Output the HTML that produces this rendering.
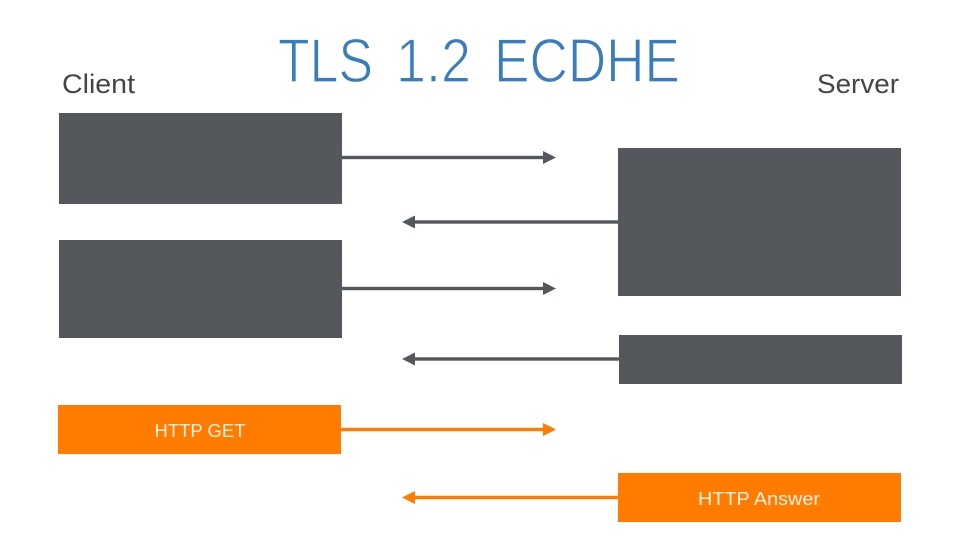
<!DOCTYPE html>
<html>
<head>
<meta charset="utf-8">
<style>
html,body{margin:0;padding:0;background:#fff;}
svg{display:block;}
text{font-family:"Liberation Sans",sans-serif;}
</style>
</head>
<body>
<svg width="960" height="540" viewBox="0 0 960 540" xmlns="http://www.w3.org/2000/svg">
<rect width="960" height="540" fill="#fff"/>
<g font-size="62" fill="#3a7dbd" stroke="#fff" stroke-width="1.3" paint-order="fill stroke">
<text x="278" y="82" textLength="95" lengthAdjust="spacingAndGlyphs">TLS</text>
<text x="396" y="82" textLength="75" lengthAdjust="spacingAndGlyphs">1.2</text>
<text x="494" y="82" textLength="186" lengthAdjust="spacingAndGlyphs">ECDHE</text>
</g>
<text x="62" y="93" font-size="27" fill="#444548" textLength="73" lengthAdjust="spacingAndGlyphs">Client</text>
<text x="817" y="93" font-size="27" fill="#444548" textLength="82" lengthAdjust="spacingAndGlyphs">Server</text>

<rect x="59" y="113" width="283" height="91" fill="#54585d"/>
<rect x="59" y="240" width="283" height="98" fill="#54585d"/>
<rect x="618" y="148" width="283" height="148" fill="#54585d"/>
<rect x="619" y="335" width="283" height="49" fill="#54585d"/>
<rect x="58" y="405" width="283" height="49" fill="#ff7c00"/>
<rect x="618" y="473" width="283" height="49" fill="#ff7c00"/>

<text x="200" y="437" font-size="18.500" fill="#fff2e4" text-anchor="middle" textLength="91" lengthAdjust="spacingAndGlyphs">HTTP GET</text>
<text x="759" y="505" font-size="18.500" fill="#fff2e4" text-anchor="middle" textLength="122" lengthAdjust="spacingAndGlyphs">HTTP Answer</text>

<g fill="#54585d">
<rect x="342" y="155.800" width="202" height="3.400"/><polygon points="543,151 556,157.500 543,164"/>
<rect x="414" y="220.300" width="204" height="3.400"/><polygon points="415,215.500 402,222 415,228.500"/>
<rect x="342" y="286.800" width="202" height="3.400"/><polygon points="543,282 556,288.500 543,295"/>
<rect x="414" y="357.300" width="205" height="3.400"/><polygon points="415,352.500 402,359 415,365.500"/>
</g>
<g fill="#ff7c00">
<rect x="341" y="427.800" width="203" height="3.400"/><polygon points="543,423 556,429.500 543,436"/>
<rect x="414" y="495.800" width="204" height="3.400"/><polygon points="415,491 402,497.500 415,504"/>
</g>
</svg>
</body>
</html>
